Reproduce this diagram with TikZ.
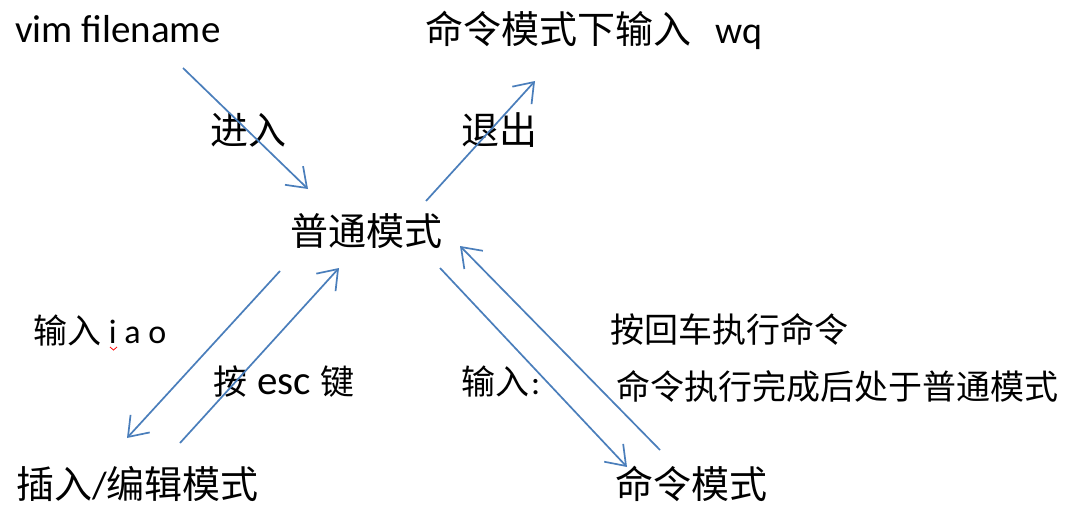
\documentclass[tikz,border=0pt]{standalone}
\usepackage{fontspec}
\setmainfont{Carlito}
\newfontfamily\cjk{Noto Sans CJK SC}
\usetikzlibrary{arrows.meta}
\definecolor{flowblue}{RGB}{74,126,187}
\begin{document}
\begin{tikzpicture}[x=1pt,y=-1pt,
  big/.style={inner sep=0pt, anchor=base west, font=\fontsize{38}{44}\selectfont},
  mid/.style={inner sep=0pt, anchor=base west, font=\fontsize{34}{40}\selectfont},
  flow/.style={draw=flowblue, line width=1.7pt,
    -{Straight Barb[length=18pt,width=26pt,line width=1.7pt]}}]
\useasboundingbox[fill=white] (0,0) rectangle (1085,519);

% labels
\node[big] (vim)    at (15,43)    {\fontsize{39}{44}\selectfont vim filename};
\node[big] (quit)   at (425,43.4) {{\cjk 命令模式下输入}\hspace{24pt}wq};
\node[big] (enter)  at (210,144.4) {\cjk 进入};
\node[big] (leave)  at (461,144.4) {\cjk 退出};
\node[big] (normal) at (290,245)  {\cjk 普通模式};
\node[mid] (iao)    at (33,343)   {{\cjk 输入} i a o};
\node[mid] (esc)    at (213,394.4) {{\cjk 按}\hspace{10pt}{\fontsize{41}{44}\selectfont esc}\hspace{10pt}{\cjk 键}};
\node[mid] (colon)  at (461,394.4) {{\cjk 输入}\hspace{2pt}:};
\node[mid] (ret)    at (610,342.4) {\cjk 按回车执行命令};
\node[mid] (back)   at (616,399)  {\cjk 命令执行完成后处于普通模式};
\node[big] (insert) at (16,498)   {{\cjk 插入}/{\cjk 编辑模式}};
\node[big] (cmd)    at (615,498)  {\cjk 命令模式};

% spell-check mark under the "i"
\draw[red, line width=0.8pt] (110,347) -- (113.5,350) -- (117,347);

% arrow end points
\coordinate (a1s) at (183,68);  \coordinate (a1e) at (308,189);
\coordinate (a2s) at (426,201); \coordinate (a2e) at (535,81);
\coordinate (a3s) at (280,271); \coordinate (a3e) at (127,438);
\coordinate (a4s) at (180,443); \coordinate (a4e) at (339,268);
\coordinate (a5s) at (440,268); \coordinate (a5e) at (627,467);
\coordinate (a6s) at (660,450); \coordinate (a6e) at (460,246);

% transitions
\draw[flow] (a1s) -- (a1e);
\draw[flow] (a2s) -- (a2e);
\draw[flow] (a3s) -- (a3e);
\draw[flow] (a4s) -- (a4e);
\draw[flow] (a5s) -- (a5e);
\draw[flow] (a6s) -- (a6e);
\end{tikzpicture}
\end{document}
